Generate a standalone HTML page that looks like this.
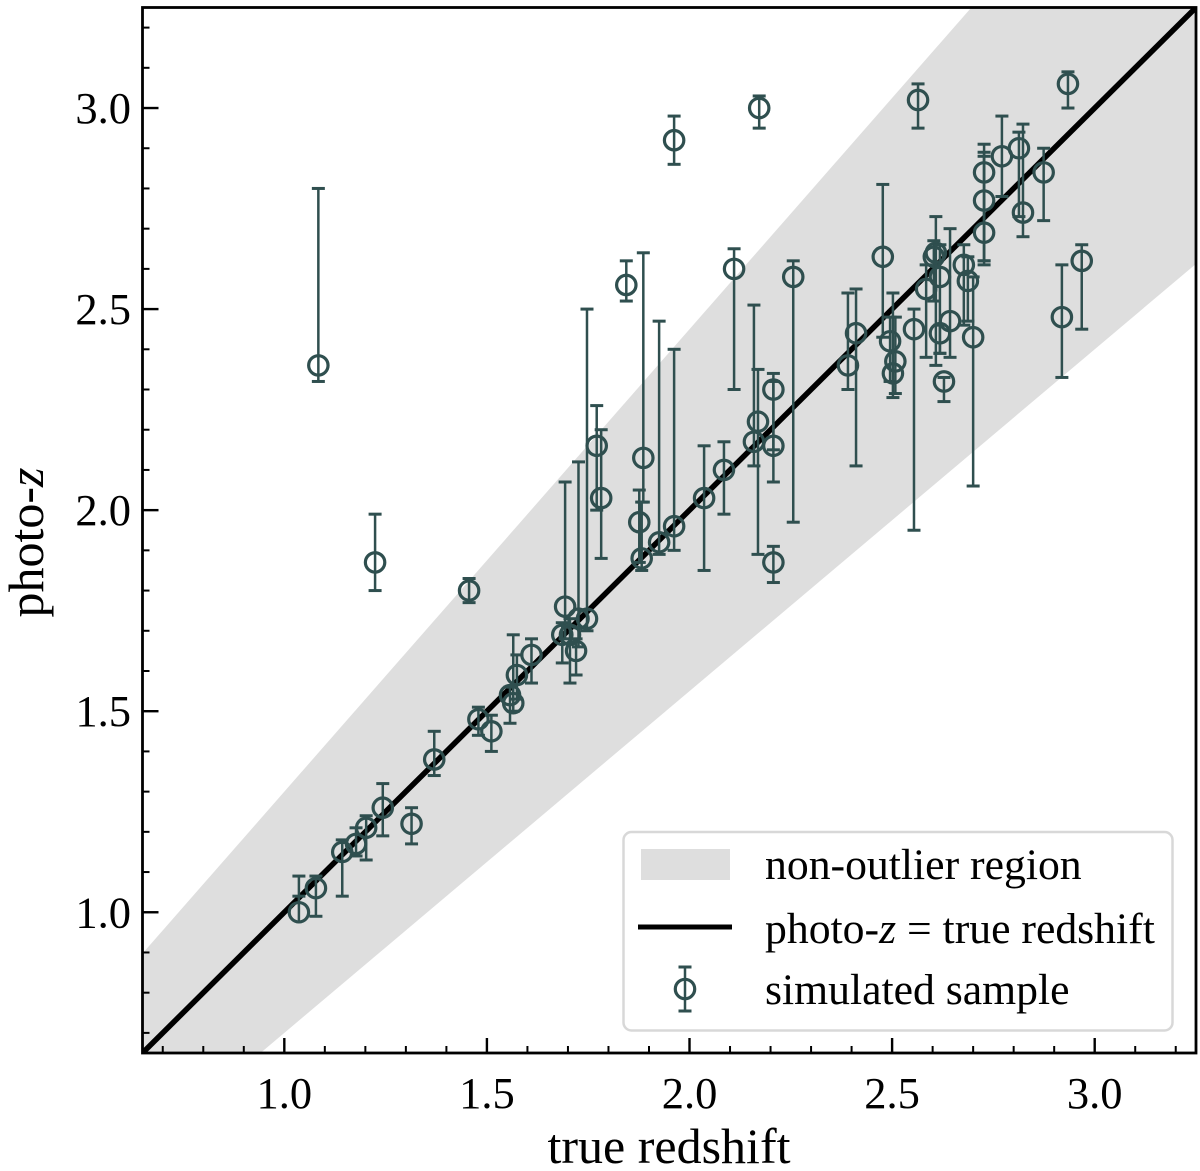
<!DOCTYPE html>
<html>
<head>
<meta charset="utf-8">
<title>photo-z vs true redshift</title>
<style>
html,body{margin:0;padding:0;background:#fff;}
svg{display:block;font-family:"Liberation Serif",serif;}
</style>
</head>
<body>
<svg id="chart" xmlns="http://www.w3.org/2000/svg" width="1200" height="1171" viewBox="0 0 1200 1171">
  <defs><clipPath id="plot-clip"><rect x="142.5" y="7.5" width="1053.5" height="1045.5"/></clipPath></defs>
  <rect x="0" y="0" width="1200" height="1171" fill="#fff"/>
  <g id="marks" clip-path="url(#plot-clip)"></g>
  <g id="ticks"></g>
  <rect x="142.5" y="7.5" width="1053.5" height="1045.5" fill="none" stroke="#000" stroke-width="2.8"/>
  <text x="669" y="1163" font-size="50" text-anchor="middle">true redshift</text>
  <text transform="translate(43,542.5) rotate(-90)" font-size="50" text-anchor="middle">photo-<tspan font-style="italic">z</tspan></text>
  <g>
    <rect x="623.5" y="832" width="549" height="198.5" rx="8" ry="8" fill="#fff" fill-opacity="0.85" stroke="#d8d8d8" stroke-width="2.5"/>
    <rect x="641" y="849" width="89" height="31" fill="#dedede"/>
    <line x1="638" y1="927" x2="732" y2="927" stroke="#000" stroke-width="5"/>
    <g stroke="#2f4f4f" fill="none">
      <line x1="685" y1="967" x2="685" y2="1011" stroke-width="2.5"/>
      <line x1="678.5" y1="967" x2="691.5" y2="967" stroke-width="3"/>
      <line x1="678.5" y1="1011" x2="691.5" y2="1011" stroke-width="3"/>
      <circle cx="685" cy="989" r="9.7" stroke-width="3.2"/>
    </g>
    <text x="765" y="879" font-size="43.7">non-outlier region</text>
    <text x="765" y="943" font-size="43.7">photo-<tspan font-style="italic">z</tspan> = true redshift</text>
    <text x="765" y="1004" font-size="43.7">simulated sample</text>
  </g>
</svg>
<script>
const trueZ = [1.036,1.078,1.143,1.177,1.202,1.243,1.314,1.37,1.479,1.511,1.557,1.565,1.574,1.61,1.686,1.693,1.705,1.72,1.747,1.726,1.844,1.771,1.782,1.876,1.886,1.882,1.925,1.962,2.036,2.085,2.11,2.159,2.169,2.207,2.207,2.207,2.256,2.391,2.411,2.477,2.495,2.508,2.502,2.554,2.584,2.603,2.608,2.618,2.618,2.628,2.643,2.677,2.687,2.70,2.727,2.727,2.727,2.771,2.813,2.823,2.874,2.919,2.968,2.934,2.564,2.172,1.962,1.084,1.224,1.456];
const photoZ = [1.00,1.06,1.15,1.17,1.21,1.26,1.22,1.38,1.48,1.45,1.54,1.52,1.59,1.64,1.69,1.76,1.69,1.65,1.73,1.73,2.56,2.16,2.03,1.97,2.13,1.88,1.92,1.96,2.03,2.10,2.60,2.17,2.22,2.30,2.16,1.87,2.58,2.36,2.44,2.63,2.42,2.37,2.34,2.45,2.55,2.63,2.64,2.44,2.58,2.32,2.47,2.61,2.57,2.43,2.69,2.77,2.84,2.88,2.90,2.74,2.84,2.48,2.62,3.06,3.02,3.00,2.92,2.36,1.87,1.80];
const photoLow = [1.04,0.99,1.04,1.14,1.13,1.19,1.17,1.34,1.44,1.40,1.47,1.50,1.53,1.57,1.62,1.68,1.57,1.59,1.70,1.66,2.52,2.00,1.88,1.87,2.02,1.85,1.89,1.90,1.85,1.99,2.30,2.11,1.89,2.15,2.07,1.82,1.97,2.30,2.11,2.43,2.32,2.29,2.28,1.95,2.38,2.52,2.36,2.39,2.39,2.27,2.38,2.46,2.47,2.06,2.62,2.61,2.62,2.78,2.73,2.68,2.72,2.33,2.45,3.00,2.95,2.95,2.86,2.32,1.80,1.77];
const photoHigh = [1.09,1.09,1.18,1.21,1.24,1.32,1.26,1.45,1.51,1.49,1.56,1.69,1.64,1.68,1.72,2.07,1.73,1.68,2.50,2.12,2.62,2.26,2.20,2.05,2.64,2.02,2.47,2.40,2.16,2.17,2.65,2.51,2.35,2.34,2.32,1.91,2.62,2.54,2.55,2.81,2.48,2.48,2.54,2.50,2.61,2.67,2.73,2.46,2.66,2.33,2.70,2.66,2.63,2.58,2.89,2.88,2.91,2.98,2.94,2.96,2.90,2.61,2.66,3.09,3.06,3.03,2.98,2.80,1.99,1.83];
const axisDomain = [0.65, 3.25];
const majorTicks = [1.0, 1.5, 2.0, 2.5, 3.0];
const majorLabels = ["1.0", "1.5", "2.0", "2.5", "3.0"];
const minorTicks = [0.7,0.8,0.9,1.1,1.2,1.3,1.4,1.6,1.7,1.8,1.9,2.1,2.2,2.3,2.4,2.6,2.7,2.8,2.9,3.1,3.2];
const outlierFraction = 0.15;

const NS = "http://www.w3.org/2000/svg";
const plotLeft = 142.5, plotRight = 1196, plotTop = 7.5, plotBottom = 1053;
function xScale(v) { return plotLeft + (v - axisDomain[0]) / (axisDomain[1] - axisDomain[0]) * (plotRight - plotLeft); }
function yScale(v) { return plotBottom - (v - axisDomain[0]) / (axisDomain[1] - axisDomain[0]) * (plotBottom - plotTop); }
function make(tag, attrs, parent) {
  const el = document.createElementNS(NS, tag);
  for (const k in attrs) el.setAttribute(k, attrs[k]);
  parent.appendChild(el);
  return el;
}
const marks = document.getElementById("marks");
const ticks = document.getElementById("ticks");
const dark = "#2f4f4f";

const d0 = axisDomain[0], d1 = axisDomain[1];
const bandUpper = v => v + outlierFraction * (1 + v);
const bandLower = v => v - outlierFraction * (1 + v);
const band = make("polygon", {
  points: [[d0, bandUpper(d0)], [d1, bandUpper(d1)], [d1, bandLower(d1)], [d0, bandLower(d0)]]
    .map(p => xScale(p[0]) + "," + yScale(p[1])).join(" "),
  fill: "#dedede"
}, marks);



const identity = make("line", {
  x1: xScale(d0), y1: yScale(d0), x2: xScale(d1), y2: yScale(d1),
  stroke: "#000", "stroke-width": 5.5
}, marks);



trueZ.forEach((tz, i) => {
  const g = make("g", { stroke: dark, fill: "none" }, marks);
  
  
  const px = xScale(tz), py = yScale(photoZ[i]);
  const yHi = yScale(photoHigh[i]), yLo = yScale(photoLow[i]);
  const lineBottom = Math.max(yLo, py + 9);
  make("line", { x1: px, x2: px, y1: yHi, y2: lineBottom, "stroke-width": 2.5 }, g);
  make("line", { x1: px - 6.5, x2: px + 6.5, y1: yHi, y2: yHi, "stroke-width": 3 }, g);
  make("line", { x1: px - 6.5, x2: px + 6.5, y1: yLo, y2: yLo, "stroke-width": 3 }, g);
  make("circle", { cx: px, cy: py, r: 9.7, "stroke-width": 3.2 }, g);
});

minorTicks.forEach(v => {
  const tx = make("line", { x1: xScale(v), x2: xScale(v), y1: plotBottom, y2: plotBottom - 7, stroke: "#000", "stroke-width": 2 }, ticks);
  
  
  const ty = make("line", { x1: plotLeft, x2: plotLeft + 7, y1: yScale(v), y2: yScale(v), stroke: "#000", "stroke-width": 2 }, ticks);
  
  
});
majorTicks.forEach((v, i) => {
  const tx = make("line", { x1: xScale(v), x2: xScale(v), y1: plotBottom, y2: plotBottom - 15, stroke: "#000", "stroke-width": 2.4 }, ticks);
  
  
  const ty = make("line", { x1: plotLeft, x2: plotLeft + 16, y1: yScale(v), y2: yScale(v), stroke: "#000", "stroke-width": 2.4 }, ticks);
  
  
  const lx = make("text", { x: xScale(v), y: 1108, "font-size": 44.5, "text-anchor": "middle", fill: "#000" }, ticks);
  lx.textContent = majorLabels[i];
  
  
  const ly = make("text", { x: 131, y: yScale(v) + 15, "font-size": 44.5, "text-anchor": "end", fill: "#000" }, ticks);
  ly.textContent = majorLabels[i];
  
  
});
</script>
</body>
</html>
